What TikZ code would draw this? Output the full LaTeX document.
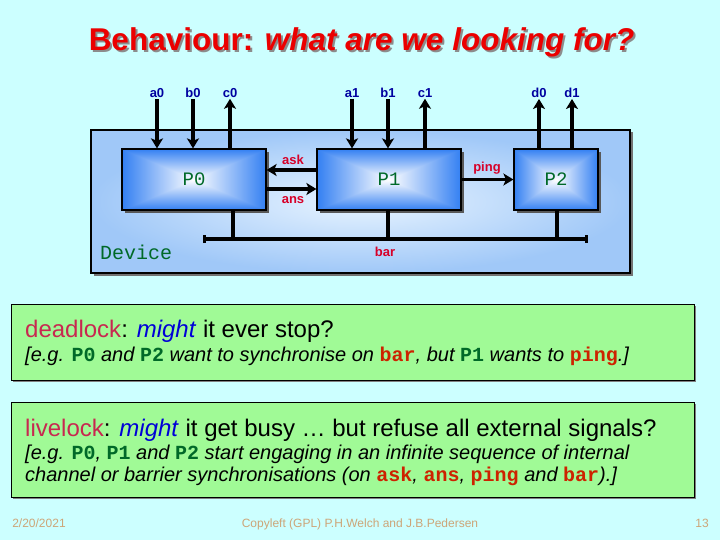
\documentclass[tikz,border=0pt]{standalone}
\usepackage{fontspec}
\setmainfont{Liberation Sans}
\newfontfamily\monof{Liberation Mono}
\usetikzlibrary{arrows.meta,shadows}
\definecolor{bgc}{RGB}{204,255,255}
\definecolor{titlered}{RGB}{235,0,0}
\definecolor{tshadow}{RGB}{140,140,140}
\definecolor{lblue}{RGB}{0,0,160}
\definecolor{lred}{RGB}{215,0,40}
\definecolor{pgreen}{RGB}{0,105,40}
\definecolor{cred}{RGB}{205,35,0}
\definecolor{dlred}{RGB}{200,40,80}
\definecolor{mblue}{RGB}{0,0,215}
\definecolor{gbox}{RGB}{160,250,150}
\definecolor{foot}{RGB}{205,165,120}
\definecolor{devout}{RGB}{160,200,248}
\definecolor{devin}{RGB}{232,244,255}
\pgfdeclarefunctionalshading{procshade}{\pgfpoint{0bp}{0bp}}{\pgfpoint{100bp}{100bp}}{}{
 50 sub abs exch 50 sub abs 2 copy lt {exch} if pop 25 div dup 1 gt {pop 1} if
 dup 0.8 mul 1 exch sub exch dup 0.5 mul 1 exch sub exch 0.05 mul 1 exch sub
}
\newcommand\codew[2]{{\upshape\monof\bfseries\color{#1}#2}}
\newcommand\shadowtext[1]{\rlap{\hspace{2pt}\raisebox{-2pt}{\textcolor{tshadow}{#1}}}\textcolor{titlered}{#1}}
\begin{document}
\begin{tikzpicture}[x=1pt,y=-1pt,
  procbox/.style={draw=black, line width=1.2pt, shading=procshade,
    minimum height=61pt, inner sep=0pt,
    font=\monof\fontsize{19}{19}\selectfont, text=pgreen,
    drop shadow={shadow xshift=3pt, shadow yshift=-3pt, fill=black!65, opacity=1}},
  sig/.style={line width=3.2pt, -{Stealth[length=10pt,width=12pt,inset=2.5pt]}},
  wire/.style={line width=3.2pt},
  chlbl/.style={font=\bfseries\fontsize{13}{13}\selectfont, text=lblue, inner sep=1pt},
  redlbl/.style={font=\bfseries\fontsize{13}{13}\selectfont, text=lred, inner sep=1pt},
  greenbox/.style={draw=black, line width=0.9pt, fill=gbox, inner sep=0pt,
    drop shadow={shadow xshift=1.5pt, shadow yshift=-1.5pt, fill=black!50, opacity=1}},
  txt/.style={anchor=base west, inner sep=0pt},
  foottxt/.style={anchor=base, inner sep=0pt, text=foot, font=\fontsize{12}{12}\selectfont}]
\fill[bgc] (0,0) rectangle (720,540);
\useasboundingbox (0,0) rectangle (720,540);
% title
\node[anchor=base, inner sep=0pt, font=\bfseries\fontsize{31.5}{31.5}\selectfont] (title) at (361.5,50.5) {\shadowtext{Behaviour: \textit{what are we looking for?}}};
% device
\node[draw=black, line width=1.4pt, inner color=devin, outer color=devout,
  minimum width=539pt, minimum height=143pt, inner sep=0pt,
  drop shadow={shadow xshift=2.5pt, shadow yshift=-2.5pt, fill=black!55, opacity=1}] (device) at (360.5,201.5) {};
\node[anchor=base west, inner sep=0pt, font=\monof\fontsize{20}{20}\selectfont, text=pgreen] (devlbl) at (100,259) {Device};
% processes
\node[procbox, minimum width=144pt] (P0) at (194,179.5) {P0};
\node[procbox, minimum width=144pt] (P1) at (389,179.5) {P1};
\node[procbox, minimum width=84pt] (P2) at (556,179.5) {P2};
% external channel labels
\node[chlbl] (la0) at (157,93) {a0};
\node[chlbl] (lb0) at (193,93) {b0};
\node[chlbl] (lc0) at (230,93) {c0};
\node[chlbl] (la1) at (352,93) {a1};
\node[chlbl] (lb1) at (388,93) {b1};
\node[chlbl] (lc1) at (425,93) {c1};
\node[chlbl] (ld0) at (539,93) {d0};
\node[chlbl] (ld1) at (572,93) {d1};
\draw[sig] (la0.south) -- (la0.south |- P0.north);
\draw[sig] (lb0.south) -- (lb0.south |- P0.north);
\draw[sig] (lc0.south |- P0.north) -- (lc0.south);
\draw[sig] (la1.south) -- (la1.south |- P1.north);
\draw[sig] (lb1.south) -- (lb1.south |- P1.north);
\draw[sig] (lc1.south |- P1.north) -- (lc1.south);
\draw[sig] (ld0.south |- P2.north) -- (ld0.south);
\draw[sig] (ld1.south |- P2.north) -- (ld1.south);
% internal channels
\draw[sig] ([yshift=9.5pt]P1.west) -- ([yshift=9.5pt]P0.east);
\draw[sig] ([yshift=-9.5pt]P0.east) -- ([yshift=-9.5pt]P1.west);
\draw[sig] (P1.east) -- (P2.west);
\node[redlbl] (lask) at (293,160) {ask};
\node[redlbl] (lans) at (293,200) {ans};
\node[redlbl] (lping) at (487,168) {ping};
% barrier
\coordinate (barL) at (203,239);
\coordinate (barR) at (588,239);
\draw[wire, {Bar[width=8pt]}-{Bar[width=8pt]}] (barL) -- (barR);
\draw[wire] ([xshift=39pt]P0.south) -- ([xshift=39pt]P0.south |- barL);
\draw[wire] ([xshift=-1pt]P1.south) -- ([xshift=-1pt]P1.south |- barL);
\draw[wire] ([xshift=1pt]P2.south) -- ([xshift=1pt]P2.south |- barL);
\node[redlbl] (lbar) at (385,252) {bar};
% deadlock box
\node[greenbox, minimum width=683pt, minimum height=76pt] (dbox) at (352.5,342) {};
\node[txt, font=\fontsize{24}{24}\selectfont] (d1) at (25,337) {\textcolor{dlred}{deadlock}: \textcolor{mblue}{\textit{might}} it ever stop?};
\node[txt, font=\itshape\fontsize{20}{20}\selectfont] (d2) at (25,361) {[e.g. \codew{pgreen}{P0} and \codew{pgreen}{P2} want to synchronise on \codew{cred}{bar}, but \codew{pgreen}{P1} wants to \codew{cred}{ping}.]};
% livelock box
\node[greenbox, minimum width=683pt, minimum height=95pt] (lbox) at (352.5,449.5) {};
\node[txt, font=\fontsize{24}{24}\selectfont] (l1) at (25,436) {\textcolor{dlred}{livelock}: \textcolor{mblue}{\textit{might}} it get busy \dots\ but refuse all external signals?};
\node[txt, font=\itshape\fontsize{20}{20}\selectfont] (l2) at (25,459) {[e.g. \codew{pgreen}{P0}, \codew{pgreen}{P1} and \codew{pgreen}{P2} start engaging in an infinite sequence of internal};
\node[txt, font=\itshape\fontsize{20}{20}\selectfont] (l3) at (25,481) {channel or barrier synchronisations (on \codew{cred}{ask}, \codew{cred}{ans}, \codew{cred}{ping} and \codew{cred}{bar}).]};
% footer
\node[foottxt] (fdate) at (39,527) {2/20/2021};
\node[foottxt] (fcopy) at (360,527) {Copyleft (GPL) P.H.Welch and J.B.Pedersen};
\node[foottxt] (fnum) at (702,527) {13};
\end{tikzpicture}
\end{document}
